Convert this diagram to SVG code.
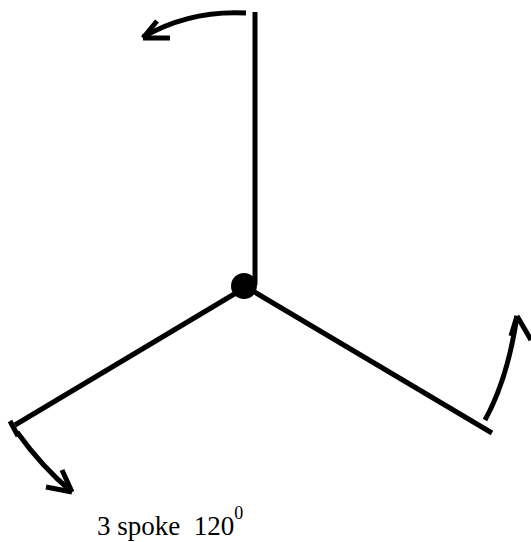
<svg xmlns="http://www.w3.org/2000/svg" width="531" height="542" viewBox="0 0 531 542">
<style>
.s{stroke:#000;stroke-width:5;fill:none;stroke-linecap:butt}
.a{stroke:#000;stroke-width:5;fill:none;stroke-linecap:butt;stroke-linejoin:miter}
.t{font-family:"Liberation Serif","Times New Roman",serif;fill:#000;white-space:pre}
</style>
<rect width="531" height="542" fill="#fff"/>
<g id="connectors">
<line class="s" x1="255" y1="12" x2="255" y2="285"/>
<line class="s" x1="246" y1="287" x2="492" y2="433"/>
<line class="s" x1="246" y1="287" x2="15" y2="425"/>
<line class="s" x1="10" y1="421" x2="18" y2="436"/>
<path class="a" d="M246,13 Q190,10 143,37"/>
<path class="a" d="M143,38 L170,38 M143,38 L157,21"/>
<path class="a" d="M485,420 Q508,378 517,316"/>
<path class="a" d="M517,316 L511,336 M517,316 L531,340"/>
<path class="a" d="M17,432 Q42,467 72,492"/>
<path class="a" d="M72,492 L46,487 M72,492 L62,470"/>
</g>
<g id="hub"><circle cx="244" cy="286" r="13" fill="#000"/></g>
<g id="label">
<text class="t" x="97" y="535" font-size="27" xml:space="preserve">3 spoke  120<tspan font-size="18" dy="-16">0</tspan></text>
</g>
</svg>
